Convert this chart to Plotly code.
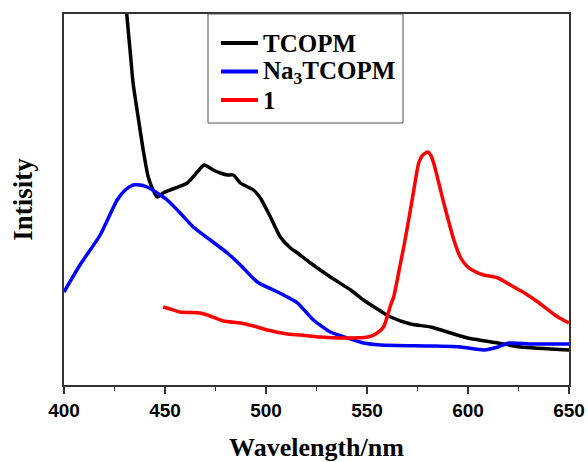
import plotly.graph_objects as go

# TCOPM (black)
tcopm_wl = [429.8, 431.1, 432.7, 434.2, 436.7, 439.2, 441.7, 444.1, 446.1, 449.1, 452.6, 456.5,
            461.0, 466.0, 469.4, 473.9, 477.4, 480.9, 483.8, 487.3, 493.8, 497.2, 502.2, 507.1,
            512.1, 515.6, 522.0, 531.9, 541.9, 548.3, 556.7, 561.7, 571.6, 581.5, 591.5, 599.9,
            614.8, 626.2, 650.0]
tcopm_int = [405, 370, 335, 302, 268, 235, 208, 195, 188, 192, 195, 198,
             202, 213, 220, 215, 212, 210, 210, 202, 195, 187, 168, 148,
             137, 132, 122, 108, 95, 85, 74, 68, 61, 58, 52, 47,
             42, 38, 35]

# Na3TCOPM (blue)
na_wl = [400.0, 407.9, 417.9, 426.3, 430.3, 434.2, 437.7, 441.2, 446.1, 451.1, 457.5, 464.0,
         472.4, 480.9, 487.3, 495.7, 503.7, 510.6, 515.6, 523.5, 531.9, 540.4, 548.3, 556.7,
         581.5, 596.4, 607.8, 614.8, 620.2, 631.2, 650.0]
na_int = [93, 120, 150, 185, 195, 200, 200, 198, 192, 185, 172, 158,
          145, 132, 120, 103, 95, 88, 82, 65, 53, 47, 42, 40,
          39, 38, 35, 38, 42, 41, 41]

# 1 (red)
c1_wl = [449.1, 452.6, 457.5, 467.5, 470.9, 478.9, 487.3, 493.8, 500.7, 510.6, 517.1, 527.0,
         540.4, 550.3, 554.3, 558.2, 561.7, 563.2, 566.7, 568.2, 570.6, 572.6, 575.6, 577.6,
         580.1, 581.5, 583.0, 588.0, 593.0, 596.4, 599.9, 603.9, 607.8, 614.8, 622.7, 628.7,
         634.6, 644.5, 650.0]
c1_int = [78, 76, 73, 72, 70, 64, 62, 59, 55, 51, 50, 48,
          47, 48, 51, 58, 80, 88, 123, 138, 165, 188, 222, 230,
          233, 230, 222, 182, 145, 127, 118, 113, 110, 107, 98, 91,
          83, 68, 62]

series_names = ["TCOPM", "Na<sub>3</sub>TCOPM", "1"]
series_colors = ["black", "#0000ff", "#ff0000"]
x_ticks = [400, 450, 500, 550, 600, 650]

W, H = 588, 462
ML, MR, MT, MB = 64, 19, 14, 77
PW, PH = W - ML - MR, H - MT - MB


def px(x):
    return (x - ML) / PW


def py(y):
    return 1 - (y - MT) / PH


fig = go.Figure()
for wl, it, nm, col in [(tcopm_wl, tcopm_int, series_names[0], series_colors[0]),
                        (na_wl, na_int, series_names[1], series_colors[1]),
                        (c1_wl, c1_int, series_names[2], series_colors[2])]:
    fig.add_trace(go.Scatter(x=wl, y=it, mode="lines", name=nm, showlegend=False,
                             line=dict(color=col, width=3.5, shape="spline", smoothing=0.6)))

# custom legend box (for tighter entry spacing than plotly's built-in legend)
shapes = [dict(type="rect", xref="paper", yref="paper", x0=px(208), x1=px(403),
               y0=py(123), y1=py(14), line=dict(color="#555555", width=1),
               fillcolor="white", layer="above")]
annotations = []
for i, (nm, col) in enumerate(zip(series_names, series_colors)):
    yy = 43 + i * 28.5
    shapes.append(dict(type="line", xref="paper", yref="paper", x0=px(221), x1=px(258),
                       y0=py(yy), y1=py(yy), line=dict(color=col, width=4), layer="above"))
    annotations.append(dict(xref="paper", yref="paper", x=px(261), y=py(yy + 1),
                            xanchor="left", yanchor="middle", showarrow=False,
                            text="<b>" + nm + "</b>",
                            font=dict(family="Liberation Serif", size=25, color="black")))

fig.update_layout(
    width=W, height=H,
    margin=dict(l=ML, r=MR, t=MT, b=MB),
    paper_bgcolor="white", plot_bgcolor="white",
    showlegend=False,
    shapes=shapes, annotations=annotations,
    xaxis=dict(range=[400, 650], tickvals=x_ticks, ticktext=[str(v) for v in x_ticks],
               automargin=False,
               showgrid=False, zeroline=False, showline=True, linecolor="#333333", linewidth=1.5,
               mirror=True, ticks="outside", ticklen=7, tickwidth=1.5, tickcolor="#333333",
               minor=dict(dtick=25, ticks="outside", ticklen=4, tickwidth=1, tickcolor="#333333"),
               tickfont=dict(family="Liberation Sans", size=19, color="black", weight="bold"),
               title=dict(text="<b>Wavelength/nm</b>", standoff=20,
                          font=dict(family="Liberation Serif", size=26, color="black"))),
    yaxis=dict(range=[0, 371], showticklabels=False, ticks="", showgrid=False, zeroline=False,
               automargin=False,
               showline=True, linecolor="#333333", linewidth=1.5, mirror=True,
               title=dict(text="<b>Intisity</b>", standoff=22,
                          font=dict(family="Liberation Serif", size=27, color="black"))),
)

fig.write_html("out.html")
